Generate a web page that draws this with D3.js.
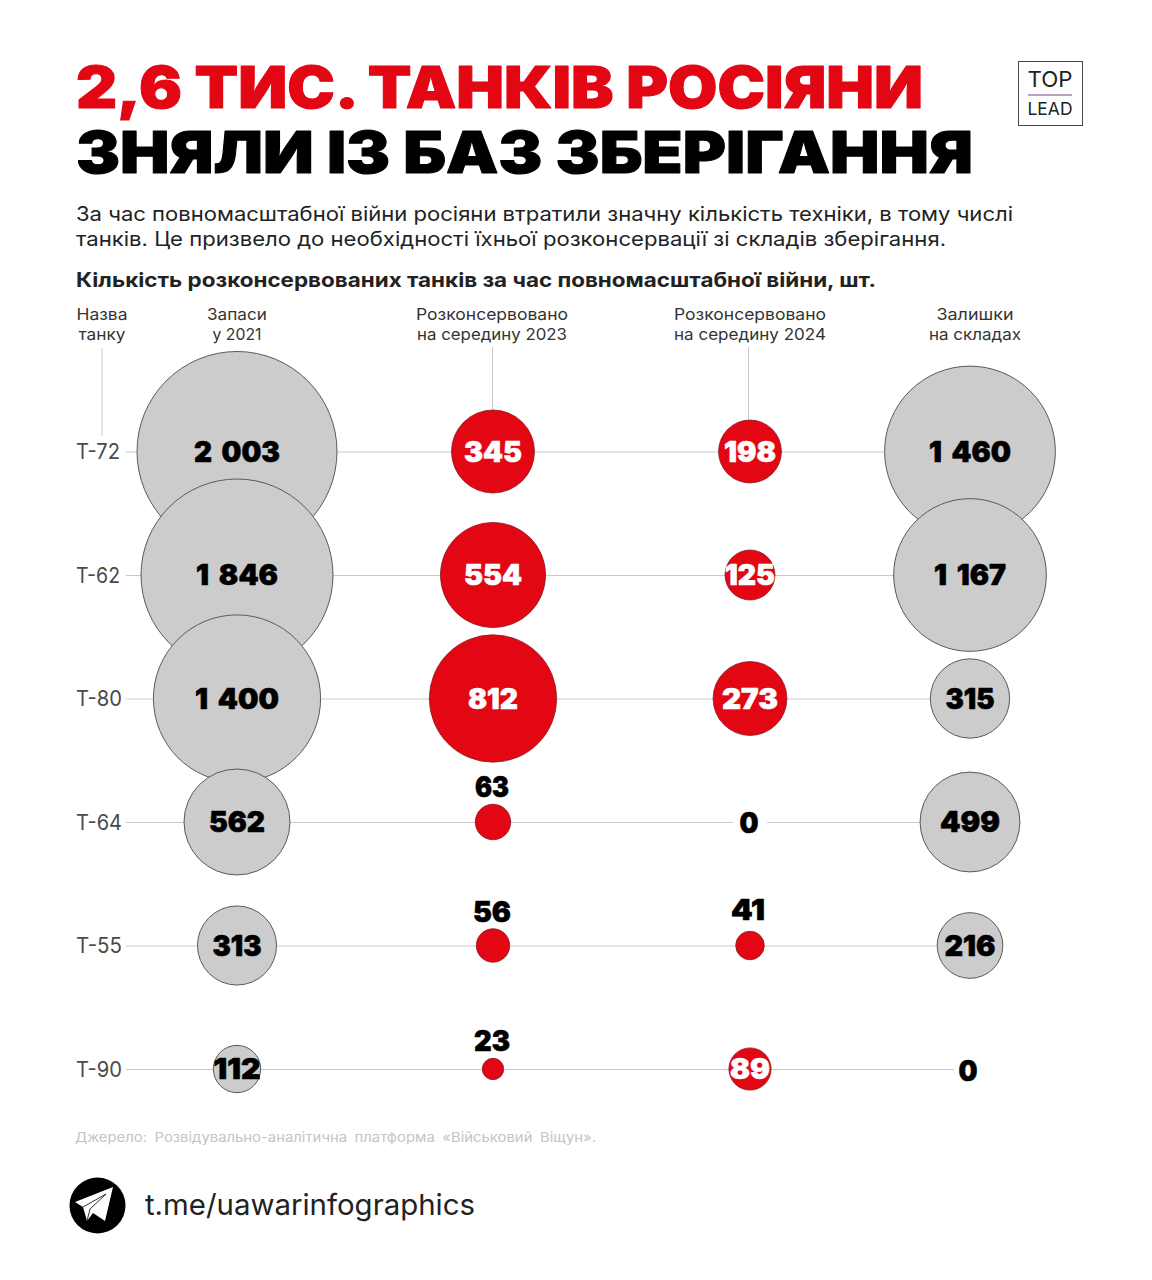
<!DOCTYPE html>
<html><head><meta charset="utf-8">
<style>html,body{margin:0;padding:0;background:#fff}svg{display:block}text{font-family:Inter,"Noto Sans",sans-serif}</style>
<script src="https://cdn.jsdelivr.net/npm/d3@7/dist/d3.min.js"></script></head>
<body><div id="chart"></div>
<script>
const tanks = ["Т-72","Т-62","Т-80","Т-64","Т-55","Т-90"];
const stock2021 = [2003,1846,1400,562,313,112];
const unpacked2023 = [345,554,812,63,56,23];
const unpacked2024 = [198,125,273,0,41,89];
const remaining = [1460,1167,315,499,216,0];
const stockLabels = ["2 003","1 846","1 400","562","313","112"];
const remainingLabels = ["1 460","1 167","315","499","216","0"];
const RED="#e30613", GREY="#cccccc", INK="#000";

const svg=d3.select("#chart").append("svg").attr("width",1152).attr("height",1280);
function fit(sel,w){ if(w) sel.attr("textLength",w).attr("lengthAdjust","spacingAndGlyphs"); return sel;}
function txt(x,y,s,size,weight,fill,anchor,w){
  return fit(svg.append("text").attr("x",x).attr("y",y).attr("font-size",size).attr("font-weight",weight)
    .attr("fill",fill).attr("text-anchor",anchor||"start").text(s),w);
}
function heavy(sel,sw){ return sel.attr("stroke",sel.attr("fill")).attr("stroke-width",sw).attr("stroke-linejoin","round"); }
heavy(txt(76,108,"2,6 ТИС. ТАНКІВ РОСІЯНИ",58,900,RED,"start",847),1);
heavy(txt(76,173,"ЗНЯЛИ ІЗ БАЗ ЗБЕРІГАННЯ",58,900,INK,"start",897),1);
txt(76,221,"За час повномасштабної війни росіяни втратили значну кількість техніки, в тому числі",20,400,"#222","start",937);
txt(76,246,"танків. Це призвело до необхідності їхньої розконсервації зі складів зберігання.",20,400,"#222","start",870);
txt(76,287,"Кількість розконсервованих танків за час повномасштабної війни, шт.",20,700,"#222","start",800);

// logo
svg.append("rect").attr("x",1018.5).attr("y",61.5).attr("width",64).attr("height",64).attr("fill","#fff").attr("stroke","#444").attr("stroke-width",1);
txt(1050,87,"TOP",22,400,"#222","middle",45);
svg.append("line").attr("x1",1028).attr("x2",1072).attr("y1",95).attr("y2",95).attr("stroke","#a77fb0").attr("stroke-width",1.5);
txt(1050,115,"LEAD",17,400,"#222","middle",45);

// scales
const y=d3.scalePoint().domain(tanks).range([451.5,1069]);
const x=d3.scaleOrdinal().domain(["s","a","b","r"]).range([237,493,750,970]);
const r=d3.scaleSqrt().domain([0,2003]).range([0,100]);

// column headers
const headers=[[102,["Назва","танку"]],[237,["Запаси","у 2021"]],[492,["Розконсервовано","на середину 2023"]],[750,["Розконсервовано","на середину 2024"]],[975,["Залишки","на складах"]]];
const headerW=[[51,47],[60,49],[152,150],[152,152],[77,92]];
headers.forEach((h,i)=>h[1].forEach((t,j)=>txt(h[0],320+j*20,t,16.5,400,"#333","middle",headerW[i][j])));

// guide lines
const gl=svg.append("g").attr("stroke","#c9c9c9").attr("stroke-width",1);
[[102,102,348,436],[492.5,492.5,347,412],[748.5,748.5,347,422]].forEach(d=>gl.append("line").attr("x1",d[0]).attr("x2",d[1]).attr("y1",d[2]).attr("y2",d[3]));
gl.selectAll(".row").data(tanks).join("line").attr("x1",126).attr("x2",(d,i)=>i===5?954:970)
  .attr("y1",d=>y(d)+0.5).attr("y2",d=>y(d)+0.5);

// row labels
tanks.forEach(t=>txt(76,y(t)+7.5,t,21,400,"#4a4a4a","start",t==="Т-72"||t==="Т-62"?44:46));

// circles: top to bottom so lower rows overlap upper ones
const cols=[["s",stock2021,GREY],["a",unpacked2023,RED],["b",unpacked2024,RED],["r",remaining,GREY]];
cols.forEach(([k,vals,fill])=>{
  svg.append("g").selectAll("circle").data(vals.map((v,i)=>({v,t:tanks[i]})).filter(d=>d.v>0)).join("circle")
    .attr("cx",x(k)).attr("cy",d=>y(d.t)).attr("r",d=>r(d.v)).attr("fill",fill)
    .attr("stroke",fill===RED?"#8c1c22":"#5a5a5a").attr("stroke-width",fill===RED?0.8:1);
});

// value labels
function val(cx,cy,s,fill,w){ return heavy(txt(cx,cy+10,s,28,900,fill,"middle",w).attr("word-spacing",4),0.6); }
const W={ "2 003":86,"1 846":82,"1 400":84,"562":56,"313":49,"112":47,"1 460":82,"1 167":72,"315":49,"499":60,"216":51,"345":58,"554":58,"812":50,"198":52,"125":50,"273":56,"89":40,"63":34,"56":38,"41":34,"23":36,"0":19 };
tanks.forEach((t,i)=>{
  val(x("s"),y(t),stockLabels[i],INK,W[stockLabels[i]]);
  const a=unpacked2023[i];
  if(r(a)>=30) val(x("a"),y(t),String(a),"#fff",W[a]); else val(x("a")-1,y(t)-r(a)-17,String(a),INK,W[a]);
  const b=unpacked2024[i];
  if(b===0){
    svg.append("rect").attr("x",x("b")-17).attr("y",y(t)-8).attr("width",34).attr("height",17).attr("fill","#fff");
    val(x("b")-1,y(t)+1,"0",INK,W[0]);
  } else if(r(b)>=20) val(x("b"),y(t),String(b),"#fff",W[b]);
  else val(x("b")-2,y(t)-r(b)-21,String(b),INK,W[b]);
  const rl=remainingLabels[i];
  if(remaining[i]===0) val(x("r")-2,y(t)+2,"0",INK,W[0]);
  else val(x("r"),y(t),rl,INK,W[rl]);
});

// footer
txt(75,1142,"Джерело:  Розвідувально-аналітична  платформа  «Військовий  Віщун».",13.5,400,"#c4c4c4","start",521).attr("word-spacing",3);
svg.append("circle").attr("cx",97.5).attr("cy",1205.5).attr("r",28).attr("fill","#000");
svg.append("path").attr("d",d3.line()([[75,1202],[113,1187],[105,1221],[93,1213],[87,1221],[83,1207]])).attr("fill","#fff");
svg.append("path").attr("d",d3.line()([[83,1207],[106,1194],[90,1209],[87,1221]])).attr("fill","none").attr("stroke","#000").attr("stroke-width",0.8);
txt(145,1215,"t.me/uawarinfographics",29,400,"#222","start",330);
</script></body></html>
